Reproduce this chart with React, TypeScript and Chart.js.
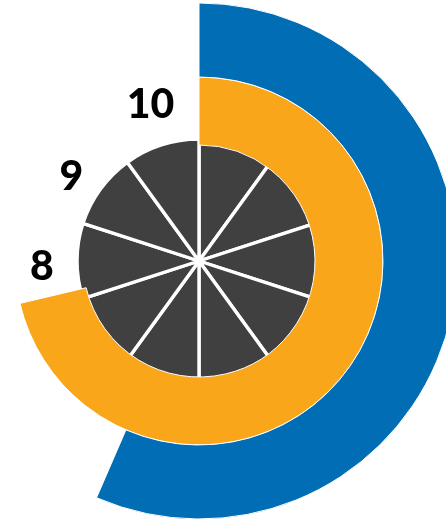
import React, { useEffect, useRef } from 'react';
import { Chart, registerables } from 'chart.js';

Chart.register(...registerables);

// ---- data ----
const scaleMax = 10;
const pieSlices = [1, 1, 1, 1, 1, 1, 1, 1, 1, 1];
const outerValue = 5.65; // blue ring
const innerValue = 7.13; // orange ring
const tickLabels = ['10', '9', '8'];

// ---- layout / style ----
const W = 446;
const H = 520;
const PAD = { left: 0, right: 48, top: 2, bottom: 0 };
const labelOffsets: [number, number][] = [
  [-48.5, -143],
  [-127.5, -71],
  [-157, 19],
];
const BLUE = '#006DB5';
const ORANGE = '#F9A61A';
const GRAY = '#404040';

export default function App() {
  const pieRef = useRef<HTMLCanvasElement>(null);
  const ringRef = useRef<HTMLCanvasElement>(null);

  useEffect(() => {
    const pie = new Chart(pieRef.current!, {
      type: 'pie',
      data: {
        labels: pieSlices.map((_, i) => String(i + 1)),
        datasets: [
          {
            data: pieSlices,
            backgroundColor: GRAY,
            borderColor: '#ffffff',
            borderWidth: 3.4,
          },
        ],
      },
      options: {
        responsive: false,
        animation: false,
        radius: 122,
        layout: { padding: PAD },
        plugins: { legend: { display: false }, tooltip: { enabled: false } },
        events: [],
      } as any,
    });

    const labelPlugin = {
      id: 'tickText',
      afterDraw(chart: any) {
        const { ctx, chartArea } = chart;
        const cx = (chartArea.left + chartArea.right) / 2;
        const cy = (chartArea.top + chartArea.bottom) / 2;
        ctx.save();
        ctx.font = '900 41px Lato';
        ctx.fillStyle = '#000000';
        ctx.textAlign = 'center';
        ctx.textBaseline = 'alphabetic';
        tickLabels.forEach((t, i) => {
          ctx.fillText(t, cx + labelOffsets[i][0], cy + labelOffsets[i][1]);
        });
        ctx.restore();
      },
    };

    const rings = new Chart(ringRef.current!, {
      type: 'doughnut',
      data: {
        labels: ['value', 'rest'],
        datasets: [
          {
            data: [outerValue, scaleMax - outerValue],
            backgroundColor: [BLUE, 'rgba(0,0,0,0)'],
            borderColor: '#ffffff',
            borderWidth: [1, 0],
            weight: 74,
          },
          {
            data: [innerValue, scaleMax - innerValue],
            backgroundColor: [ORANGE, 'rgba(0,0,0,0)'],
            borderColor: '#ffffff',
            borderWidth: [1, 0],
            weight: 68,
          },
        ],
      },
      options: {
        responsive: false,
        animation: false,
        radius: 258,
        cutout: '44.96%',
        layout: { padding: PAD },
        plugins: { legend: { display: false }, tooltip: { enabled: false } },
        events: [],
      } as any,
      plugins: [labelPlugin],
    });

    return () => {
      pie.destroy();
      rings.destroy();
    };
  }, []);

  return (
    <div
      style={{
        position: 'fixed',
        left: 0,
        top: 0,
        width: W,
        height: H,
        overflow: 'hidden',
        background: '#ffffff',
      }}
    >
      <canvas
        ref={pieRef}
        width={W}
        height={H}
        style={{ position: 'absolute', left: 0, top: 0 }}
      />
      <canvas
        ref={ringRef}
        width={W}
        height={H}
        style={{ position: 'absolute', left: 0, top: 0 }}
      />
    </div>
  );
}
